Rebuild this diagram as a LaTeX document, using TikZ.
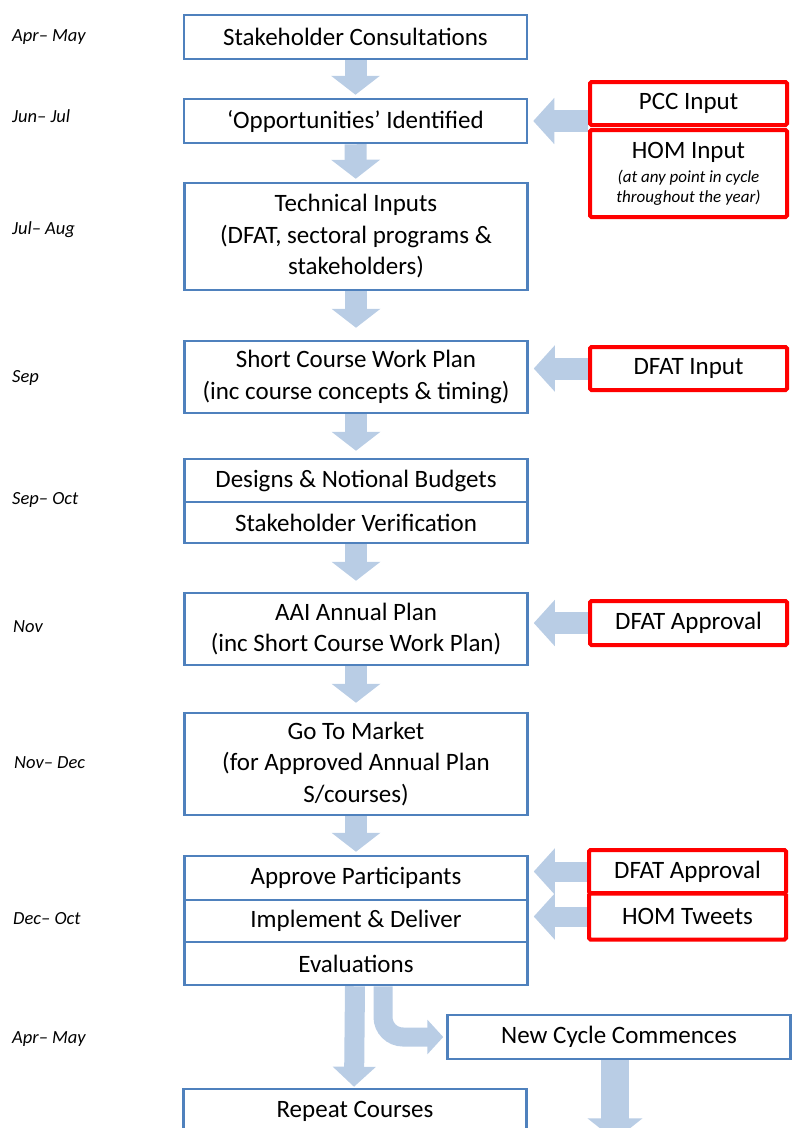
\documentclass[tikz,border=0pt]{standalone}
\usepackage{fontspec}
\setmainfont{Carlito}
\usepackage{xcolor}
\usetikzlibrary{arrows.meta,backgrounds}

\definecolor{boxblue}{RGB}{79,129,189}
\definecolor{arrowblue}{RGB}{185,205,229}
\definecolor{inputred}{RGB}{255,0,0}

\newcommand{\hsmall}{\fontsize{17}{20}\selectfont\itshape}

\tikzset{
  mainbox/.style={draw=boxblue, line width=2.5pt, fill=white, minimum width=343pt, inner sep=0pt, align=center, font=\fontsize{25}{31.5}\selectfont},
  redbox/.style={draw=inputred, line width=4pt, rounded corners=1.5pt, fill=white, minimum width=197pt, inner sep=0pt, align=center, font=\fontsize{25}{26}\selectfont},
  flowarrow/.style={draw=arrowblue, line width=22pt, -{Triangle[length=19pt,width=48pt]}},
  sidearrow/.style={draw=arrowblue, line width=22pt, -{Triangle[length=21pt,width=45pt]}},
  datelbl/.style={anchor=west, inner sep=0pt, font=\fontsize{18.5}{20}\selectfont\itshape},
}

\begin{document}
\begin{tikzpicture}[x=1pt,y=-1pt]
        \useasboundingbox (0,0) rectangle (806,1128);

        \node[datelbl](d1) at (12,37) {Apr– May};
        \node[datelbl](d2) at (12,116) {Jun– Jul};
        \node[datelbl](d3) at (12,230) {Jul– Aug};
        \node[datelbl](d4) at (12,378) {Sep};
        \node[datelbl](d5) at (12,500) {Sep– Oct};
        \node[datelbl](d6) at (13,627) {Nov};
        \node[datelbl](d7) at (14,763) {Nov– Dec};
        \node[datelbl](d8) at (13,919) {Dec– Oct};
        \node[datelbl](d9) at (12,1039) {Apr– May};

        \node[mainbox, minimum height=44pt](consult) at (355.5,37) {Stakeholder Consultations};
        \node[mainbox, minimum height=44pt](opport) at (355.5,121) {‘Opportunities’ Identified};
        \node[mainbox, minimum height=107pt](technical) at (356,236.5) {Technical Inputs\\(DFAT, sectoral programs \&\\stakeholders)};
        \node[mainbox, minimum height=72pt](workplan) at (356,377) {Short Course Work Plan\\(inc course concepts \& timing)};
        \node[mainbox, minimum height=43pt](designs) at (356,480.5) {Designs \& Notional Budgets};
        \node[mainbox, minimum height=41pt](verify) at (356,522.5) {Stakeholder Verification};
        \node[mainbox, minimum height=72pt](annual) at (356,629) {AAI Annual Plan\\(inc Short Course Work Plan)};
        \node[mainbox, minimum height=102pt](market) at (356,764) {Go To Market\\(for Approved Annual Plan\\S/courses)};
        \node[mainbox, minimum height=44pt](participants) at (356,878) {Approve Participants};
        \node[mainbox, minimum height=42pt](deliver) at (356,921) {Implement \& Deliver};
        \node[mainbox, minimum height=43pt](evals) at (356,963.5) {Evaluations};
        \node[mainbox, minimum height=44pt](newcycle) at (619,1037) {New Cycle Commences};
        \node[mainbox, minimum height=44pt](repeat) at (355,1111) {Repeat Courses};

        \node[redbox, minimum height=43pt](pcc) at (688.5,103.5) {PCC Input};
        \node[redbox, minimum height=87pt](hom) at (688.5,173.5) {HOM Input\\[-2pt]{\hsmall (at any point in cycle}\\[-6pt]{\hsmall throughout the year)}};
        \node[redbox, minimum height=43pt](dfatin) at (688.5,368.5) {DFAT Input};
        \node[redbox, minimum height=44pt](dfatok) at (688.5,623) {DFAT Approval};
        \node[redbox, minimum height=43pt](dfatpart) at (687.5,871.5) {DFAT Approval};
        \node[redbox, minimum height=46pt](tweets) at (687.5,916.5) {HOM Tweets};

        \begin{scope}[on background layer]
        \clip (0,0) rectangle (806,1128);
        \coordinate(nextcycle) at ([xshift=-4pt,yshift=-80pt]newcycle.south);
        \draw[flowarrow, shorten >=3pt](consult)--(opport);
        \draw[flowarrow, shorten >=3pt](opport)--(technical);
        \draw[flowarrow, shorten >=12pt](technical)--(workplan);
        \draw[flowarrow, shorten >=7pt](workplan)--(designs);
        \draw[flowarrow, shorten >=11pt](verify)--(annual);
        \draw[flowarrow, shorten >=9pt](annual)--(market);
        \draw[flowarrow, shorten >=3pt](market)--(participants);
        \draw[flowarrow, line width=20pt, -{Triangle[length=20pt,width=42pt]}, shorten >=1pt]([xshift=-1pt]evals.south)--([xshift=-1pt]repeat.north);
        \draw[flowarrow, line width=19pt, rounded corners=20pt, -{Triangle[length=16pt,width=34pt]}, shorten >=3pt]([xshift=27pt]evals.south)|-(newcycle.west);
        \draw[flowarrow, line width=28pt, -{Triangle[length=22pt,width=54pt]}]([xshift=-4pt]newcycle.south)--(nextcycle);
        \draw[sidearrow, shorten >=5pt](opport.east -| pcc.west)--(opport.east);
        \draw[sidearrow, shorten >=5pt](dfatin.west)--(dfatin.west -| workplan.east);
        \draw[sidearrow, shorten >=5pt](dfatok.west)--(dfatok.west -| annual.east);
        \draw[sidearrow, line width=20pt, shorten >=5pt](dfatpart.west)--(dfatpart.west -| participants.east);
        \draw[sidearrow, line width=20pt, shorten >=5pt](tweets.west)--(tweets.west -| deliver.east);
        \end{scope}
        \end{tikzpicture}
\end{document}
